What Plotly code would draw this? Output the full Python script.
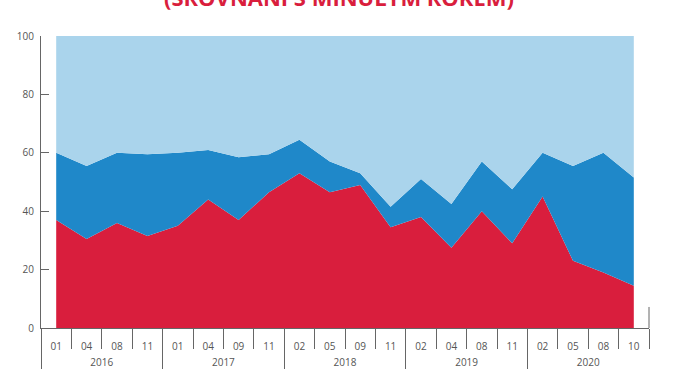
import plotly.graph_objects as go

years = ["2016"] * 4 + ["2017"] * 4 + ["2018"] * 4 + ["2019"] * 4 + ["2020"] * 4
months = ["01", "04", "08", "11", "01", "04", "09", "11", "02", "05", "09", "11",
          "02", "04", "08", "11", "02", "05", "08", "10"]

red_share = [37, 30.5, 36, 31.5, 35, 44, 37, 46.5, 53, 46.5, 49, 34.5, 38, 27.5, 40, 29, 45, 23, 19, 14.5]
blue_share = [23, 25, 24, 28, 25, 17, 21.5, 13, 11.5, 10.5, 4, 7, 13, 15, 17, 18.5, 15, 32.5, 41, 37]
light_share = [40, 44.5, 40, 40.5, 40, 39, 41.5, 40.5, 35.5, 43, 47, 58.5, 49, 57.5, 43, 52.5, 40, 44.5, 40, 48.5]

y_ticks = [0, 20, 40, 60, 80, 100]
title_text = "(SROVNÁNÍ S MINULÝM ROKEM)"

RED = "#D91E3D"
BLUE = "#1F88C9"
LIGHT = "#AAD4EC"
GREY = "#666666"
TXT = "#555555"

n = len(months)
pos = list(range(n))                      # category slots
month_bounds = [i - 0.5 for i in range(n + 1)]

year_names = list(dict.fromkeys(years))
year_first = [years.index(y) for y in year_names]
year_last = [n - 1 - years[::-1].index(y) for y in year_names]
year_centers = [(a + b) / 2 for a, b in zip(year_first, year_last)]
year_bounds = [a - 0.5 for a in year_first]

fig = go.Figure()
for vals, col in [(red_share, RED), (blue_share, BLUE), (light_share, LIGHT)]:
    fig.add_trace(go.Scatter(
        x=pos, y=vals, mode="lines", stackgroup="one",
        line=dict(width=0, color=col), fillcolor=col, hoverinfo="skip",
        showlegend=False,
    ))
# empty trace so that the year axis (x2) is drawn
fig.add_trace(go.Scatter(
    x=year_centers, y=[None] * len(year_centers), xaxis="x2", yaxis="y",
    mode="lines", line=dict(width=0), hoverinfo="skip", showlegend=False,
))

fig.update_layout(
    width=674, height=380,
    margin=dict(l=41, r=25, t=36, b=52),
    paper_bgcolor="white", plot_bgcolor="white",
    font=dict(family="Open Sans", size=10, color=TXT),
    showlegend=False,
    xaxis=dict(
        range=[-0.5, n - 0.5], tickmode="array", tickvals=pos, ticktext=months,
        showline=True, linecolor=GREY, linewidth=1,
        ticks="", ticklabelstandoff=9,
        minor=dict(tickmode="array", tickvals=month_bounds, ticks="outside",
                   ticklen=20, tickcolor=GREY, tickwidth=1, showgrid=False),
        showgrid=False, zeroline=False,
        tickfont=dict(size=10, color=TXT),
    ),
    xaxis2=dict(
        overlaying="x", anchor="y", side="bottom",
        range=[-0.5, n - 0.5], tickmode="array", tickvals=year_centers,
        ticktext=year_names, ticks="", ticklabelstandoff=27,
        minor=dict(tickmode="array", tickvals=year_bounds, ticks="outside",
                   ticklen=40, tickcolor=GREY, tickwidth=1, showgrid=False),
        showline=False, showgrid=False, zeroline=False,
        tickfont=dict(size=10, color=TXT),
    ),
    yaxis=dict(
        range=[0, 100], tickvals=y_ticks,
        showline=True, linecolor=GREY, linewidth=1,
        ticks="inside", ticklen=8, tickcolor=GREY,
        showgrid=False, zeroline=False,
        ticklabelstandoff=4,
        tickfont=dict(size=10, color=TXT),
    ),
)

fig.add_annotation(
    text="<b>" + title_text + "</b>", xref="paper", yref="paper",
    x=0.49, y=1.0, yshift=22, yanchor="bottom", showarrow=False,
    font=dict(family="Open Sans", size=22, color=RED),
)

fig.add_shape(type="line", xref="paper", yref="paper", x0=1, x1=1, y0=0, y1=0.072,
              line=dict(color=GREY, width=1))

fig.write_html("out.html")
